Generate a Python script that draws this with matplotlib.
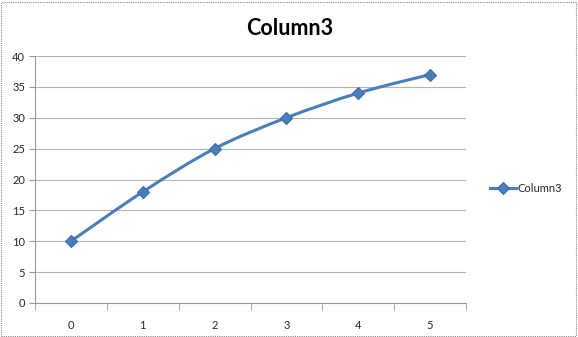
import numpy as np
import matplotlib.pyplot as plt
from matplotlib.path import Path
from matplotlib.patches import PathPatch, Rectangle
from matplotlib.lines import Line2D

categories = ["0", "1", "2", "3", "4", "5"]
values = [10, 18, 25, 30, 34, 37]
series_name = "Column3"

blue = "#4a7ebb"
edge = "#3a6aa8"
grid_col = "#b3b3b3"
txt = "#262626"

plt.rcParams["font.family"] = ["Lato", "DejaVu Sans"]

fig = plt.figure(figsize=(5.78, 3.37), dpi=100)
ax = fig.add_axes([0.0606, 0.1009, 0.7456, 0.7329])

x = np.arange(len(values))
y = np.array(values, dtype=float)

# smoothed line like Excel (Catmull-Rom turned into bezier segments)
verts = [(x[0], y[0])]
codes = [Path.MOVETO]
n = len(x)
for i in range(n - 1):
    p0 = np.array([x[max(i - 1, 0)], y[max(i - 1, 0)]])
    p1 = np.array([x[i], y[i]])
    p2 = np.array([x[i + 1], y[i + 1]])
    p3 = np.array([x[min(i + 2, n - 1)], y[min(i + 2, n - 1)]])
    c1 = p1 + (p2 - p0) / 6
    c2 = p2 - (p3 - p1) / 6
    verts += [tuple(c1), tuple(c2), tuple(p2)]
    codes += [Path.CURVE4] * 3
ax.add_patch(PathPatch(Path(verts, codes), facecolor="none", edgecolor=blue,
                       lw=2.2, zorder=3, capstyle="round"))
ax.plot(x, y, linestyle="none", marker="D", markersize=6.5, color=blue,
        markeredgecolor=edge, markeredgewidth=0.8, zorder=4)

ax.set_xlim(-0.5, len(values) - 0.5)
ax.set_ylim(0, 40)
ax.set_yticks(range(0, 41, 5))
ax.set_xticks(x)
ax.set_xticklabels(categories)
ax.set_xticks(np.arange(-0.5, len(values), 1), minor=True)
ax.yaxis.grid(True, color=grid_col, lw=0.8)
ax.set_axisbelow(True)

for s in ["top", "right"]:
    ax.spines[s].set_visible(False)
for s in ["left", "bottom"]:
    ax.spines[s].set_color("#999999")
    ax.spines[s].set_linewidth(0.8)
ax.tick_params(axis="x", which="major", length=0, pad=12, labelsize=8, labelcolor=txt)
ax.tick_params(axis="x", which="minor", length=5, color="#999999", direction="out")
ax.tick_params(axis="y", length=4, color="#999999", labelsize=8, labelcolor=txt, pad=3)

fig.text(0.502, 0.915, series_name, ha="center", va="center", fontsize=15.5,
         fontweight="bold", color="black")

handle = Line2D([], [], color=blue, lw=2.2, marker="D", markersize=6.5,
                markeredgecolor=edge, markeredgewidth=0.8)
fig.legend([handle], [series_name], loc="center left", bbox_to_anchor=(0.83, 0.44),
           frameon=False, fontsize=8, handlelength=2.4, handletextpad=0.1,
           labelcolor=txt)

fig.patches.append(Rectangle((0.002, 0.003), 0.994, 0.992, transform=fig.transFigure,
                             fill=False, edgecolor="#888888", lw=0.8,
                             linestyle=(0, (1, 1))))

fig.savefig("out.png", dpi=100)
